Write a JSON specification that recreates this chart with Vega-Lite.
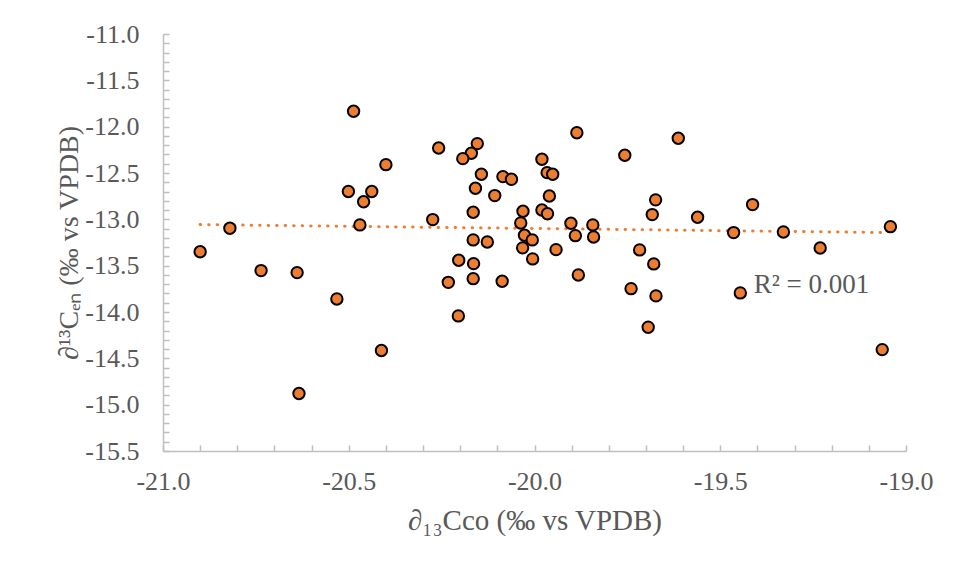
{
  "$schema": "https://vega.github.io/schema/vega-lite/v6.json",
  "width": 743,
  "height": 417,
  "autosize": {"type": "none"},
  "padding": {"left": 163, "top": 34, "right": 53, "bottom": 118},
  "background": "white",
  "config": {"view": {"stroke": null}, "font": "Liberation Serif"},
  "datasets": {
    "points": [
      {"x": -20.487, "y": -11.834}, {"x": -20.258, "y": -12.23}, {"x": -20.40, "y": -12.41},
      {"x": -20.501, "y": -12.70}, {"x": -20.438, "y": -12.70}, {"x": -20.46, "y": -12.81},
      {"x": -20.274, "y": -13.003}, {"x": -20.470, "y": -13.06}, {"x": -20.82, "y": -13.096},
      {"x": -20.90, "y": -13.35}, {"x": -20.736, "y": -13.553}, {"x": -20.639, "y": -13.575},
      {"x": -20.232, "y": -13.68}, {"x": -20.532, "y": -13.859}, {"x": -20.412, "y": -14.416},
      {"x": -20.634, "y": -14.880}, {"x": -20.154, "y": -12.183}, {"x": -20.170, "y": -12.287},
      {"x": -20.193, "y": -12.345}, {"x": -19.886, "y": -12.065}, {"x": -19.613, "y": -12.125},
      {"x": -19.757, "y": -12.309}, {"x": -19.980, "y": -12.352}, {"x": -20.143, "y": -12.514},
      {"x": -20.085, "y": -12.539}, {"x": -20.062, "y": -12.568}, {"x": -19.966, "y": -12.496},
      {"x": -19.951, "y": -12.514}, {"x": -20.159, "y": -12.665}, {"x": -20.107, "y": -12.744},
      {"x": -19.960, "y": -12.748}, {"x": -19.674, "y": -12.79}, {"x": -19.683, "y": -12.949},
      {"x": -19.561, "y": -12.977}, {"x": -20.165, "y": -12.924}, {"x": -20.031, "y": -12.913},
      {"x": -19.980, "y": -12.899}, {"x": -19.965, "y": -12.939}, {"x": -20.037, "y": -13.039},
      {"x": -19.902, "y": -13.042}, {"x": -19.843, "y": -13.06}, {"x": -20.027, "y": -13.172},
      {"x": -20.006, "y": -13.222}, {"x": -19.890, "y": -13.176}, {"x": -19.841, "y": -13.19},
      {"x": -20.165, "y": -13.222}, {"x": -20.127, "y": -13.244}, {"x": -20.032, "y": -13.308},
      {"x": -19.942, "y": -13.327}, {"x": -19.717, "y": -13.33}, {"x": -20.204, "y": -13.441},
      {"x": -20.005, "y": -13.427}, {"x": -20.164, "y": -13.478}, {"x": -19.679, "y": -13.481},
      {"x": -19.882, "y": -13.60}, {"x": -20.165, "y": -13.64}, {"x": -20.087, "y": -13.668},
      {"x": -19.740, "y": -13.748}, {"x": -19.673, "y": -13.826}, {"x": -19.694, "y": -14.164},
      {"x": -20.205, "y": -14.042}, {"x": -19.413, "y": -12.841}, {"x": -19.464, "y": -13.143},
      {"x": -19.330, "y": -13.136}, {"x": -19.231, "y": -13.309}, {"x": -19.042, "y": -13.079},
      {"x": -19.446, "y": -13.794}, {"x": -19.064, "y": -14.406}
    ],
    "trend": [
      {"x": -20.90, "y": -13.057},
      {"x": -19.051, "y": -13.143}
    ],
    "label": [
      {"x": -19.41, "y": -13.79, "text": "R² = 0.001"}
    ]
  },
  "encoding": {
    "x": {
      "field": "x", "type": "quantitative",
      "scale": {"domain": [-21, -19], "nice": false, "zero": false},
      "axis": {
        "values": [-21, -20.9, -20.8, -20.7, -20.6, -20.5, -20.4, -20.3, -20.2, -20.1, -20, -19.9, -19.8, -19.7, -19.6, -19.5, -19.4, -19.3, -19.2, -19.1, -19],
        "labelExpr": "abs(datum.value*2 - round(datum.value*2)) < 0.01 ? replace(format(datum.value, '.1f'), '\u2212', '-') : ''",
        "labelOverlap": false,
        "labelFlush": false,
        "grid": false,
        "tickSize": -6,
        "tickColor": "#BFBFBF",
        "tickWidth": 1.5,
        "domainColor": "#BFBFBF",
        "domainWidth": 1.5,
        "labelFont": "Liberation Serif",
        "labelFontSize": 26,
        "labelColor": "#595959",
        "labelPadding": 23,
        "title": "∂₁₃Cco (‰ vs VPDB)",
        "titleFont": "Liberation Serif",
        "titleFontSize": 29,
        "titleFontWeight": "normal",
        "titleColor": "#595959",
        "titlePadding": 12
      }
    },
    "y": {
      "field": "y", "type": "quantitative",
      "scale": {"domain": [-15.5, -11], "nice": false, "zero": false},
      "axis": {
        "values": [-15.5, -15.4, -15.3, -15.2, -15.1, -15, -14.9, -14.8, -14.7, -14.6, -14.5, -14.4, -14.3, -14.2, -14.1, -14, -13.9, -13.8, -13.7, -13.6, -13.5, -13.4, -13.3, -13.2, -13.1, -13, -12.9, -12.8, -12.7, -12.6, -12.5, -12.4, -12.3, -12.2, -12.1, -12, -11.9, -11.8, -11.7, -11.6, -11.5, -11.4, -11.3, -11.2, -11.1, -11],
        "labelExpr": "abs(datum.value*2 - round(datum.value*2)) < 0.01 ? replace(format(datum.value, '.1f'), '\u2212', '-') : ''",
        "labelOverlap": false,
        "labelFlush": false,
        "grid": false,
        "tickSize": -6,
        "tickColor": "#BFBFBF",
        "tickWidth": 1.5,
        "domainColor": "#BFBFBF",
        "domainWidth": 1.5,
        "labelFont": "Liberation Serif",
        "labelFontSize": 26,
        "labelColor": "#595959",
        "labelPadding": 30,
        "title": "∂¹³Cₑₙ (‰ vs VPDB)",
        "titleFont": "Liberation Serif",
        "titleFontSize": 28,
        "titleFontWeight": "normal",
        "titleColor": "#595959",
        "titlePadding": 1
      }
    }
  },
  "layer": [
    {
      "data": {"name": "trend"},
      "mark": {"type": "line", "color": "#ED7D31", "strokeWidth": 3, "strokeDash": [0.5, 8], "strokeCap": "round"}
    },
    {
      "data": {"name": "points"},
      "mark": {"type": "point", "shape": "circle", "filled": true, "fill": "#ED7D31", "stroke": "black", "strokeWidth": 2, "size": 130, "opacity": 1}
    },
    {
      "data": {"name": "label"},
      "mark": {"type": "text", "align": "left", "baseline": "alphabetic", "fontSize": 27, "color": "#595959", "font": "Liberation Serif"},
      "encoding": {"text": {"field": "text"}}
    }
  ]
}
